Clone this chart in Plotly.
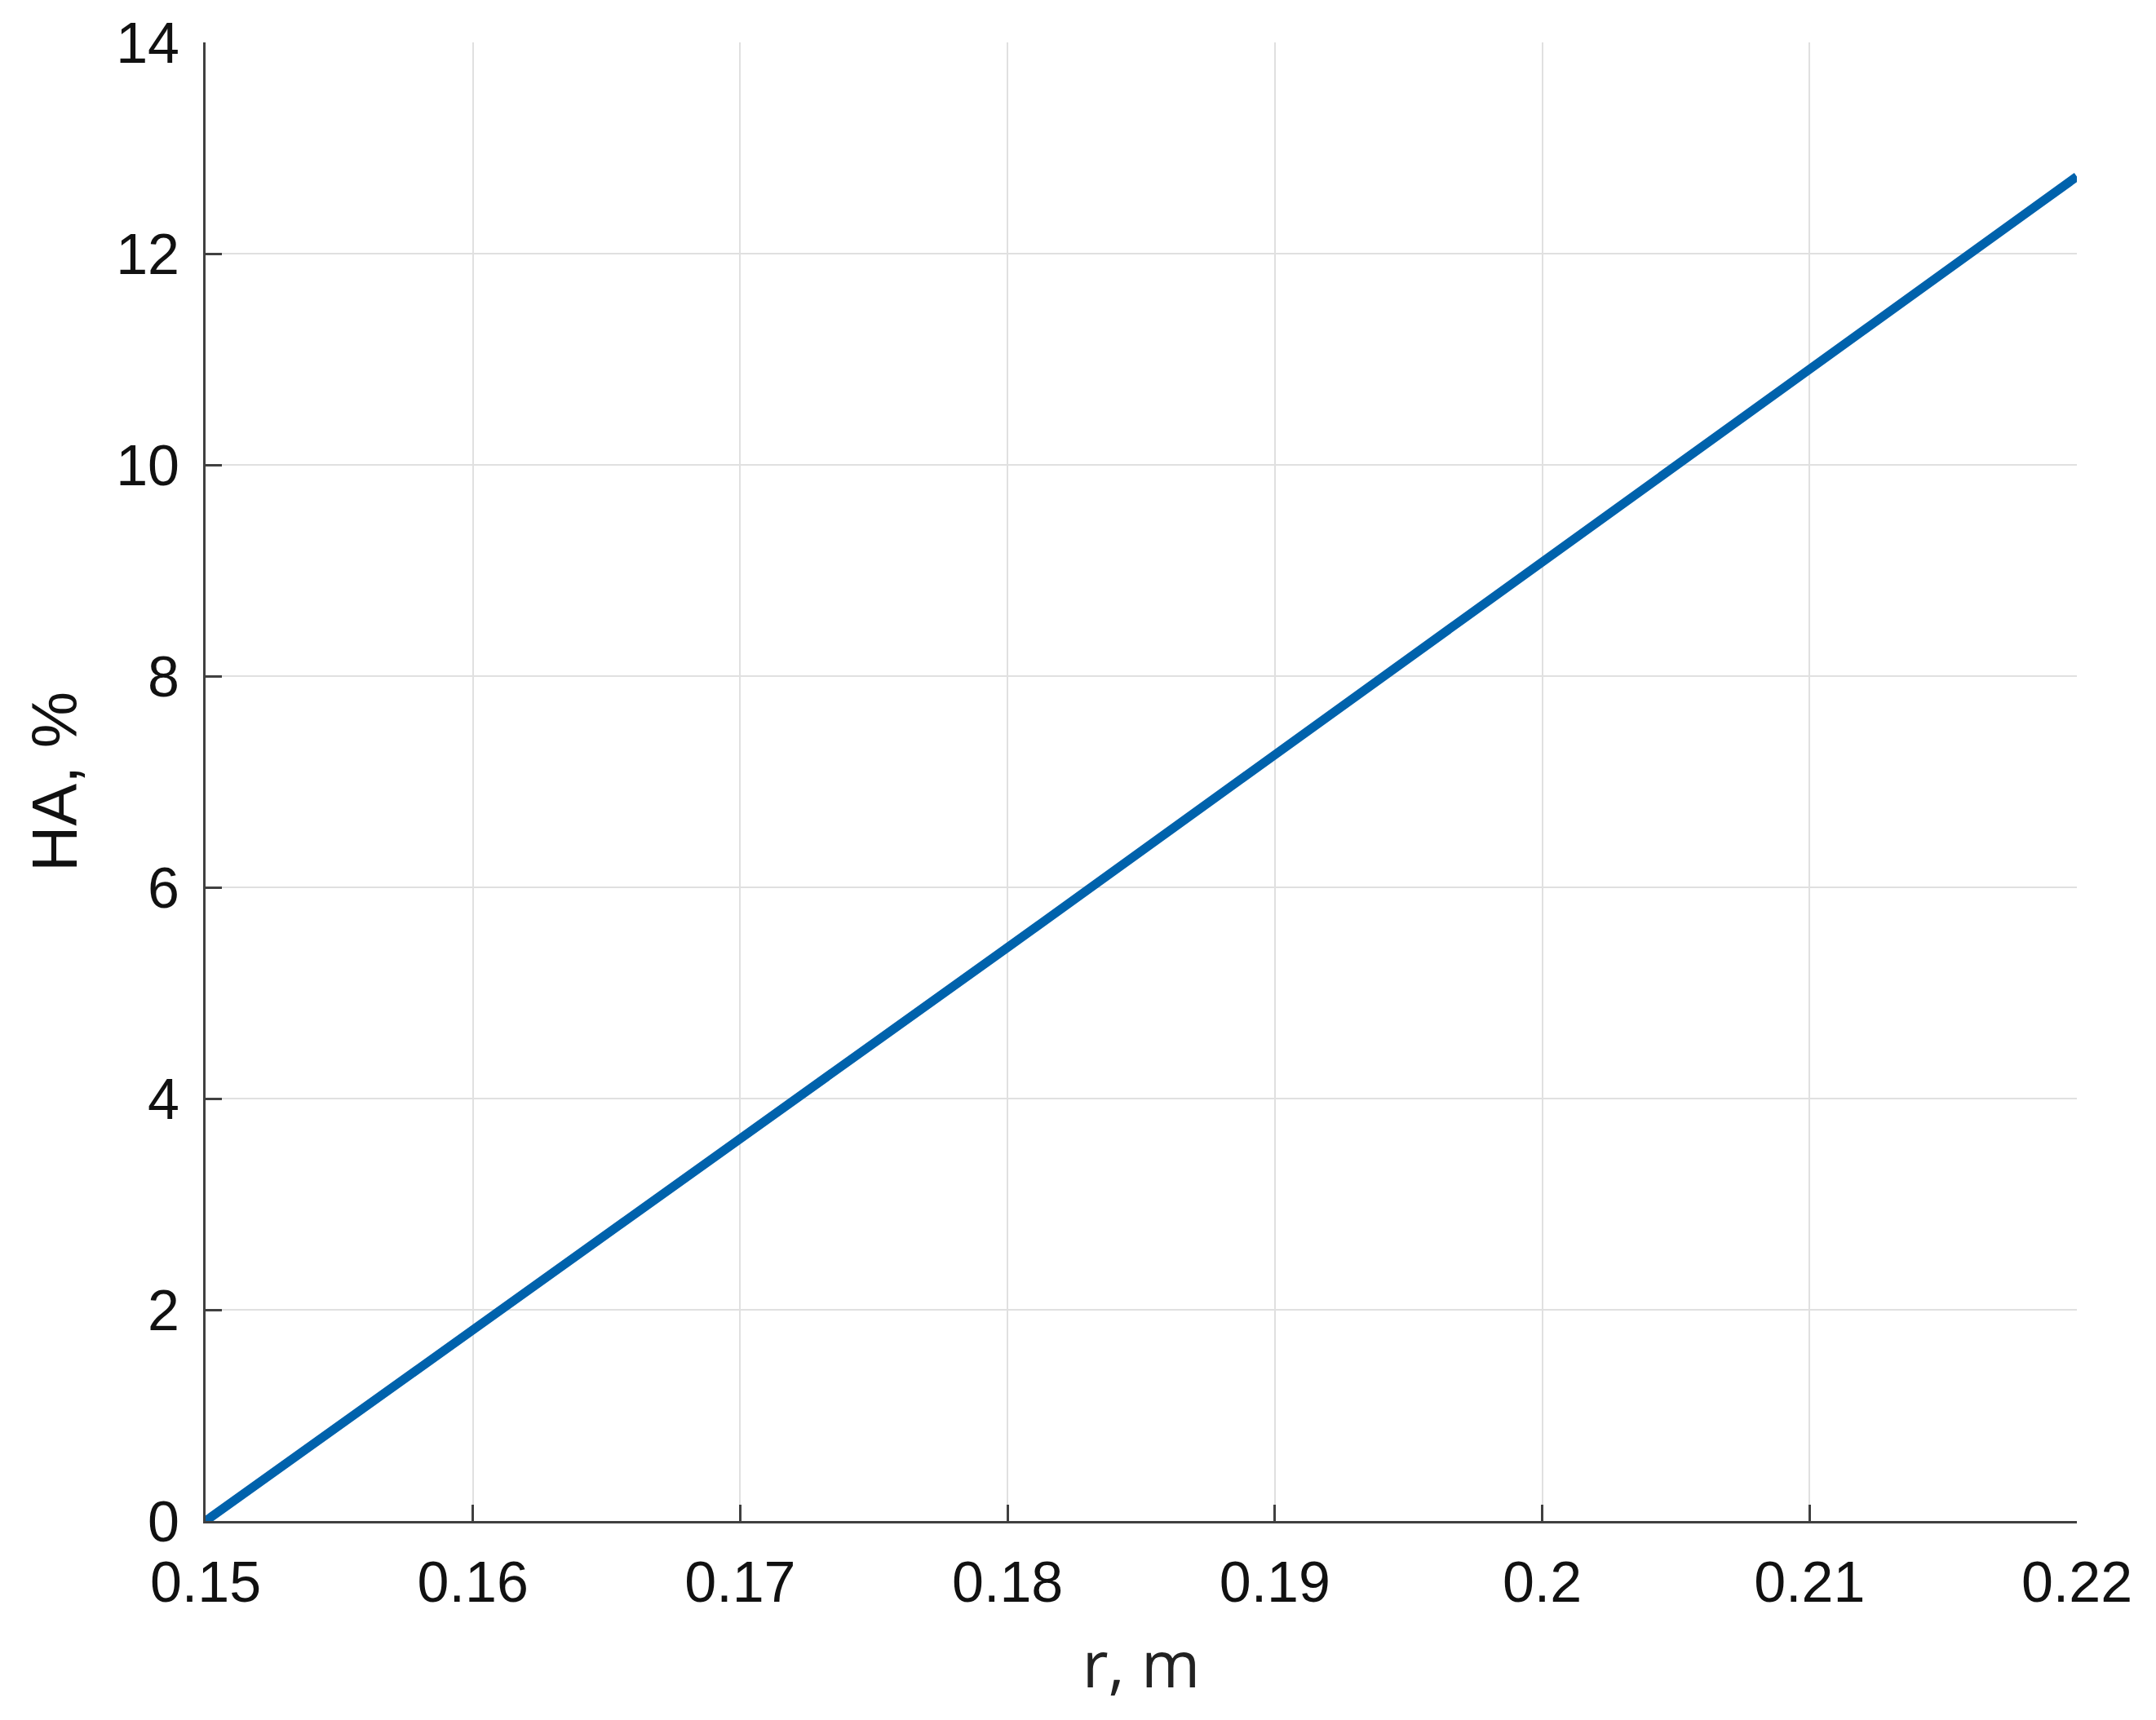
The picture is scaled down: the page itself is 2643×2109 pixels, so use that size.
import plotly.graph_objects as go

r_vals = [0.15, 0.16, 0.17, 0.18, 0.19, 0.20, 0.21, 0.22]
ha_vals = [0.0, 1.80, 3.62, 5.43, 7.26, 9.08, 10.90, 12.73]

x_ticks = [0.15, 0.16, 0.17, 0.18, 0.19, 0.20, 0.21, 0.22]
x_ticktext = ["0.15", "0.16", "0.17", "0.18", "0.19", "0.2", "0.21", "0.22"]
y_ticks = [0, 2, 4, 6, 8, 10, 12, 14]

fig = go.Figure()
fig.add_trace(go.Scatter(
    x=r_vals, y=ha_vals, mode="lines",
    line=dict(color="#0062AC", width=11),
    showlegend=False,
))

axis_common = dict(
    showline=True, linecolor="#404040", linewidth=3,
    ticks="inside", ticklen=20, tickwidth=3, tickcolor="#404040",
    showgrid=True, gridcolor="#E0E0E0", gridwidth=2,
    zeroline=False, automargin=False,
    tickfont=dict(family="Liberation Sans, Arial", size=70, color="#111111"),
)

fig.update_xaxes(
    range=[0.15, 0.22], tickvals=x_ticks, ticktext=x_ticktext,
    ticklabelstandoff=12,
    title=dict(text="r, m", font=dict(family="Open Sans", size=78, color="#222222"), standoff=37),
    **axis_common,
)
fig.update_yaxes(
    range=[0, 14], tickvals=y_ticks,
    ticklabelstandoff=15,
    title=dict(text="HA, %", font=dict(family="Liberation Sans, Arial", size=78, color="#111111"), standoff=22),
    **axis_common,
)

fig.update_layout(
    width=2627, height=2093,
    margin=dict(l=244, r=89, t=44, b=236, pad=0),
    plot_bgcolor="white", paper_bgcolor="white",
)

fig.write_html("out.html")
